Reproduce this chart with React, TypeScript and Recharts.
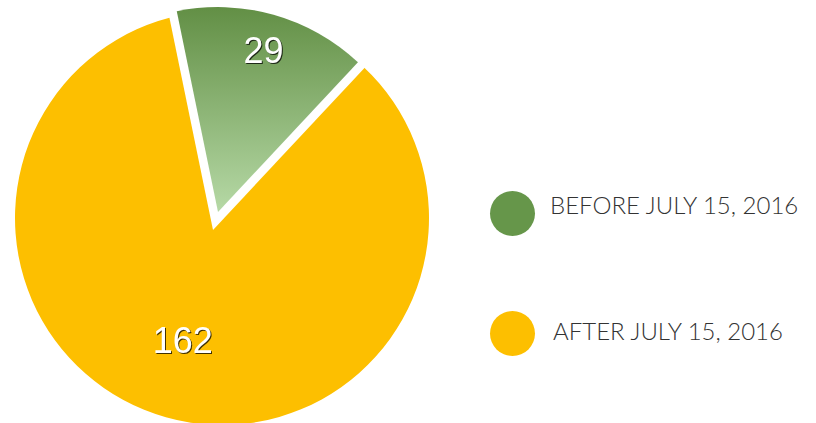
import { PieChart, Pie, Cell, Legend } from 'recharts'

// Two periods, count of items in each.
const categories = ['BEFORE JULY 15, 2016', 'AFTER JULY 15, 2016']
const counts = [29, 162]

const GREEN = '#66964a'
const YELLOW = '#fdbf00'

const data = categories.map((name, i) => ({ name, value: counts[i] }))

// Where the number label sits: fraction of the radius, and a small nudge of
// the angle (degrees) off the slice's mid angle.
const LABEL_RADIUS = [0.82, 0.623]
const LABEL_NUDGE = [0, -2]

// Start at ~11 o'clock and go clockwise.
const START = 101.6
const END = START - 360

const renderLabel = (show: number) => (props: any) => {
  const { cx, cy, midAngle, outerRadius, index, value } = props
  if (index !== show) return null
  const RAD = Math.PI / 180
  const r = outerRadius * LABEL_RADIUS[index]
  const a = midAngle + LABEL_NUDGE[index]
  const x = cx + r * Math.cos(-a * RAD)
  const y = cy + r * Math.sin(-a * RAD)
  return (
    <text
      x={x}
      y={y}
      fill="#fff"
      textAnchor="middle"
      dominantBaseline="central"
      style={{
        fontFamily: '"Liberation Sans", Arial, sans-serif',
        fontSize: 36,
        filter: 'drop-shadow(1px 1px 0.6px rgba(0,0,0,0.75))',
      }}
    >
      {value}
    </text>
  )
}

function LegendBox() {
  const colors = [GREEN, YELLOW]
  return (
    <div style={{ position: 'relative', width: 330, height: 200 }}>
      {categories.map((c, i) => (
        <div
          key={c}
          style={{
            position: 'absolute',
            left: 0,
            top: i === 0 ? 0 : 120,
            display: 'flex',
            alignItems: 'center',
            height: 46,
          }}
        >
          <span
            style={{
              display: 'inline-block',
              width: 45,
              height: 45,
              borderRadius: '50%',
              background: colors[i],
            }}
          />
          <span
            style={{
              marginLeft: i === 0 ? 15 : 18,
              marginTop: i === 0 ? -18 : -6,
              fontFamily: 'Lato, "Open Sans", sans-serif',
              fontWeight: 300,
              fontSize: 24,
              color: '#333',
              whiteSpace: 'nowrap',
            }}
          >
            {c}
          </span>
        </div>
      ))}
    </div>
  )
}

export default function App() {
  return (
    <div style={{ position: 'absolute', left: 0, top: 0, background: '#fff' }}>
      <PieChart width={816} height={423} margin={{ top: 0, right: 0, bottom: 0, left: 0 }}>
        <defs>
          <linearGradient id="greenFill" x1="0" y1="0" x2="0" y2="1">
            <stop offset="0%" stopColor="#628f45" />
            <stop offset="100%" stopColor="#b6d9a6" />
          </linearGradient>
        </defs>
        {/* big slice */}
        <Pie
          data={data}
          dataKey="value"
          cx={222}
          cy={218}
          outerRadius={207}
          startAngle={START}
          endAngle={END}
          stroke="none"
          label={renderLabel(1)}
          labelLine={false}
          isAnimationActive={false}
        >
          <Cell fill="none" />
          <Cell fill={YELLOW} />
        </Pie>
        {/* white cut that opens the gap round the exploded slice */}
        <Pie
          data={data}
          dataKey="value"
          cx={213}
          cy={230}
          outerRadius={240}
          startAngle={START}
          endAngle={END}
          stroke="none"
          isAnimationActive={false}
        >
          <Cell fill="#fff" />
          <Cell fill="none" />
        </Pie>
        {/* exploded slice */}
        <Pie
          data={data}
          dataKey="value"
          cx={218}
          cy={212}
          outerRadius={205}
          startAngle={START}
          endAngle={END}
          stroke="none"
          label={renderLabel(0)}
          labelLine={false}
          isAnimationActive={false}
        >
          <Cell fill="url(#greenFill)" />
          <Cell fill="none" />
        </Pie>
        <Legend
          layout="vertical"
          wrapperStyle={{ position: 'absolute', left: 490, top: 190, width: 330 }}
          content={() => <LegendBox />}
        />
      </PieChart>
    </div>
  )
}
